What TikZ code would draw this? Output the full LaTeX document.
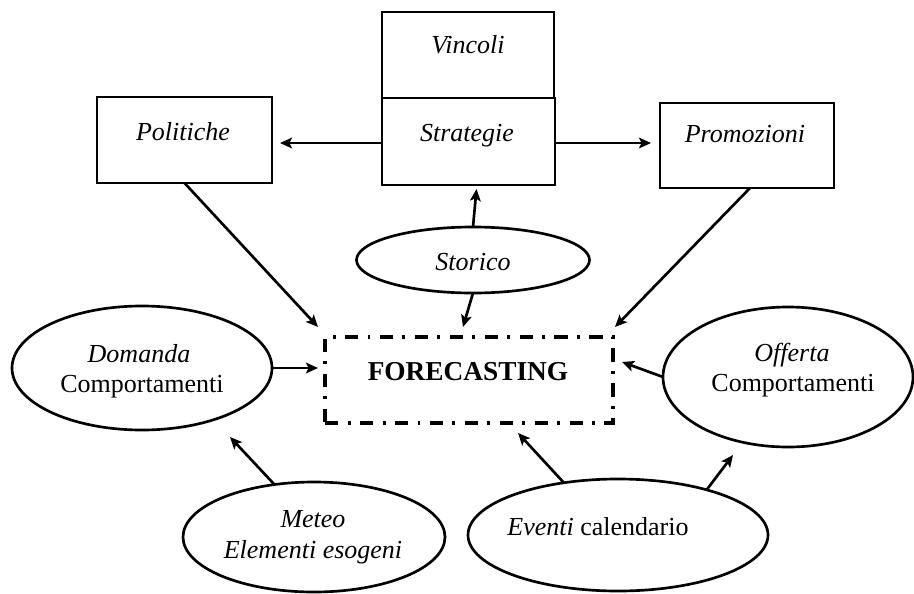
\documentclass[tikz,border=0pt]{standalone}
\usepackage{fontspec}
\setmainfont{Liberation Serif}
\usetikzlibrary{arrows.meta,shapes.geometric,calc}

\tikzset{
  box/.style={draw, rectangle, line width=2.2pt, inner sep=0pt, outer sep=0pt},
  oval/.style={draw, ellipse, line width=2pt, inner sep=0pt, outer sep=0pt},
  fcbox/.style={draw, rectangle, line width=2.4pt, inner sep=0pt, outer sep=0pt,
    dash pattern=on 10pt off 7pt on 2.2pt off 7pt},
  arr/.style={line width=2pt, -{Stealth[length=9pt,width=8pt,inset=2pt]}},
  txt/.style={anchor=base, inner sep=0pt, font=\fontsize{19.5}{22}\selectfont},
}

\begin{document}
\begin{tikzpicture}[x=0.75pt, y=-0.75pt]
\useasboundingbox (0,0) rectangle (914,593);

% boxes
\node[box, minimum width=172*0.75pt, minimum height=86*0.75pt] (vin) at (468,55) {};
\node[box, minimum width=173*0.75pt, minimum height=87*0.75pt] (str) at (468.5,141.5) {};
\node[box, minimum width=175*0.75pt, minimum height=86*0.75pt] (pol) at (184.5,140) {};
\node[box, minimum width=174*0.75pt, minimum height=85*0.75pt] (pro) at (747,145.5) {};
\node[fcbox, minimum width=288*0.75pt, minimum height=86*0.75pt] (fc) at (469,380) {};

% ellipses
\node[oval, minimum width=233*0.75pt, minimum height=66*0.75pt] (sto) at (473,260) {};
\node[oval, minimum width=260*0.75pt, minimum height=124*0.75pt] (dom) at (142,368) {};
\node[oval, minimum width=250*0.75pt, minimum height=140*0.75pt] (off) at (788,377) {};
\node[oval, minimum width=262*0.75pt, minimum height=110*0.75pt] (met) at (314,537) {};
\node[oval, minimum width=300*0.75pt, minimum height=112*0.75pt] (eve) at (618,535) {};

% labels
\node[txt] (t-vin) at (468,53) {\itshape Vincoli};
\node[txt] (t-str) at (467,141) {\itshape Strategie};
\node[txt] (t-pol) at (183,140) {\itshape Politiche};
\node[txt] (t-pro) at (745,142) {\itshape Promozioni};
\node[txt] (t-sto) at (473,270) {\itshape Storico};
\node[txt, font=\fontsize{20.5}{22}\selectfont\bfseries] (t-fc) at (468,380) {FORECASTING};
\node[txt] (t-dom1) at (139,362) {\itshape Domanda};
\node[txt] (t-dom2) at (142,392) {Comportamenti};
\node[txt] (t-off1) at (792,361) {\itshape Offerta};
\node[txt] (t-off2) at (793,391) {Comportamenti};
\node[txt] (t-met1) at (313,527) {\itshape Meteo};
\node[txt] (t-met2) at (313,558) {\itshape Elementi esogeni};
\node[txt] (t-eve) at (598,535) {\textit{Eventi} calendario};

% connectors
\draw[arr] ($(str.west)+(0,1.5)$) -- ($(str.west -| pol.east)+(8,1.5)$);
\draw[arr] ($(str.east)+(0,1.5)$) -- ($(str.east -| pro.west)+(-9,1.5)$);
\draw[arr] (sto.north) -- ($(str.south)+(8,4)$);
\draw[arr] (sto.south) -- ($(fc.north)+(-6,-10)$);
\draw[arr] (pol.south) -- ($(fc.north west)+(-7,-10)$);
\draw[arr] ($(pro.south)+(3,0)$) -- ($(fc.north east)+(2,-10)$);
\draw[arr] (dom.east) -- ($(fc.west)+(-7,-12)$);
\draw[arr] (off.west) -- ($(fc.east)+(9,-18)$);
\draw[arr] (met.127) -- ($(dom.center)+(88,69)$);
\draw[arr] (eve.136) -- ($(fc.south)+(49,10)$);
\draw[arr] (eve.27) -- ($(off.center)+(-55,78)$);
\end{tikzpicture}
\end{document}
